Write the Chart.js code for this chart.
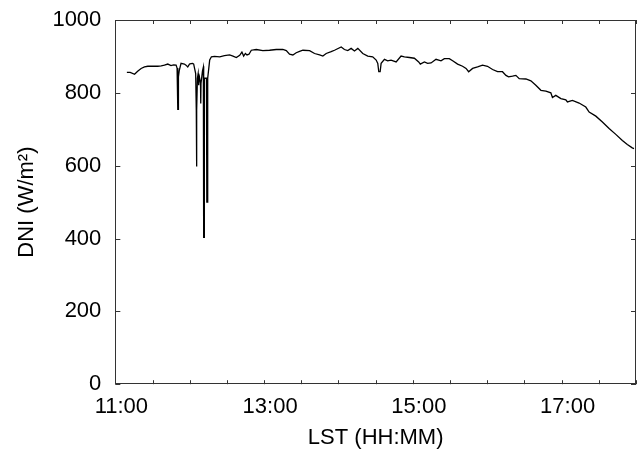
<!DOCTYPE html>
<html>
<head>
<meta charset="utf-8">
<script src="https://cdn.jsdelivr.net/npm/chart.js@4"></script>
<style>
  html, body { margin: 0; padding: 0; background: #fff; }
  #wrap { width: 638px; height: 458px; }
</style>
</head>
<body>
<div id="wrap"><canvas id="dniChart"></canvas></div>
<script>
// time of day in minutes after midnight (LST)
const times = [
  669.3, 672, 675.5, 678, 680.8, 683.5, 686.2, 690, 694.2, 697, 699.6, 702.3, 704.9, 707, 709.0,
  709.8, 710.2, 710.4, 710.5, 710.8, 710.9, 711.6, 713.0, 715.7, 717, 718.4, 719.8, 721, 722.4, 723.2,
  724.0, 724.8, 725.3, 725.4, 725.6, 725.8, 726.2, 726.8, 727.2, 727.3, 727.5, 728.7, 728.9, 729.1,
  730.3, 731.0, 731.2, 731.3, 731.6, 731.8, 732.8, 733.5, 733.7, 733.9, 734.1, 734.3, 734.7, 736.1,
  737.5, 740, 744.2, 748, 752.2, 754.9, 757.6, 760.3, 762.1, 763.5, 764.9, 766.2, 767.8, 769.7,
  773.7, 779.0, 784.4, 789.8, 795.1, 797.9, 800.5, 803.2, 805.9, 808.6, 811.3, 816.7, 820.7, 824.8,
  827.4, 830.1, 834.1, 836.8, 842.2, 844.8, 847.5, 850.2, 852.9, 855.6, 859.6, 863.6, 867.6, 870.4,
  871.7, 872.5, 873.6, 874.4, 877.1, 879.7, 882.4, 886.5, 890.5, 893.2, 897.2, 901.2, 904.7, 906.0,
  909.3, 911.9, 914.7, 918.7, 922.7, 925.4, 929.4, 932.1, 936.1, 940.1, 942.9, 945.0, 948.2, 952.2,
  956.2, 960.2, 964.3, 968.3, 972.3, 975.1, 977.2, 980.4, 983.1, 985.8, 991.2, 995.2, 999.2, 1003.3,
  1007.3, 1011.3, 1012.6, 1015.3, 1019.4, 1023.4, 1024.7, 1028.7, 1034.1, 1039.5, 1042.2, 1047.6,
  1052.9, 1058.3, 1063.7, 1069.0, 1073.0, 1077.0, 1078.4
];
// direct normal irradiance, W/m2
const dni = [
  856, 856, 851, 859, 867, 871, 873, 873, 873, 874, 876, 879, 875, 877, 876,
  868, 853, 844, 755, 755, 844, 862, 881, 879, 876, 871, 879, 880, 881, 879,
  866, 853, 752, 598, 598, 752, 840, 853, 853, 821, 850, 826, 771, 826,
  860, 870, 873, 403, 403, 840, 840, 840, 590, 500, 500, 590, 840, 890,
  899, 900, 899, 902, 904, 901, 897, 903, 912, 901, 908, 904, 906, 917,
  919, 916, 917, 919, 919, 916, 906, 904, 910, 914, 917, 916, 908, 904,
  901, 908, 913, 917, 926, 919, 916, 922, 915, 922, 908, 901, 899, 890,
  881, 858, 858, 881, 892, 888, 890, 885, 901, 899, 897, 895, 885, 879,
  885, 881, 882, 892, 888, 894, 894, 888, 879, 873, 867, 858, 867, 871,
  876, 873, 864, 858, 858, 848, 844, 846, 848, 839, 838, 833, 821, 807,
  805, 800, 787, 793, 784, 781, 775, 779, 772, 761, 747, 736,
  720, 702, 686, 669, 658, 649, 647
];
const xTicks = [660, 780, 900, 1020];
const xMin = 660, xMax = 1080, xMinorStep = 30;
const yTicks = [0, 200, 400, 600, 800, 1000];

const fmtTime = (m) => {
  const h = Math.floor(m / 60), mm = Math.round(m % 60);
  return String(h).padStart(2, '0') + ':' + String(mm).padStart(2, '0');
};

// box round the plot with inward ticks on all four sides
const frameTicks = {
  id: 'frameTicks',
  afterDatasetsDraw(chart) {
    const { ctx, chartArea: a, scales: { x, y } } = chart;
    ctx.save();
    ctx.strokeStyle = '#333';
    ctx.lineWidth = 1;
    ctx.strokeRect(Math.round(a.left) + 0.5, Math.round(a.top) + 0.5,
                   Math.round(a.width) - 1, Math.round(a.height) - 1);
    ctx.beginPath();
    for (let t = xMin; t <= xMax; t += xMinorStep) {
      const px = Math.round(x.getPixelForValue(t)) + 0.5;
      ctx.moveTo(px, a.bottom); ctx.lineTo(px, a.bottom - 4);
      ctx.moveTo(px, a.top); ctx.lineTo(px, a.top + 4);
    }
    yTicks.forEach(v => {
      const py = Math.round(y.getPixelForValue(v)) + 0.5;
      ctx.moveTo(a.left, py); ctx.lineTo(a.left + 5, py);
      ctx.moveTo(a.right, py); ctx.lineTo(a.right - 5, py);
    });
    ctx.stroke();
    ctx.restore();
  }
};

const font = { family: '"Liberation Sans", Arial, sans-serif', size: 22 };

new Chart(document.getElementById('dniChart').getContext('2d'), {
  type: 'line',
  data: {
    datasets: [{
      data: times.map((t, i) => ({ x: t, y: dni[i] })),
      borderColor: '#000',
      borderWidth: 1.3,
      pointRadius: 0,
      tension: 0,
      fill: false
    }]
  },
  options: {
    responsive: true,
    maintainAspectRatio: false,
    animation: false,
    layout: { padding: { left: 4, right: 2, top: 20, bottom: 3 } },
    plugins: { legend: { display: false }, tooltip: { enabled: false } },
    scales: {
      x: {
        type: 'linear',
        min: xMin,
        max: xMax,
        afterBuildTicks: (scale) => { scale.ticks = xTicks.map(v => ({ value: v })); },
        grid: { display: false, drawTicks: false },
        border: { display: false },
        ticks: { color: '#000', font: font, padding: 10, labelOffset: 6, maxRotation: 0, callback: (v) => fmtTime(v) },
        title: { display: true, text: 'LST (HH:MM)', color: '#000', font: font, padding: { top: -6, bottom: 4 } }
      },
      y: {
        min: 0,
        max: 1000,
        afterBuildTicks: (scale) => { scale.ticks = yTicks.map(v => ({ value: v })); },
        afterFit: (scale) => { scale.paddingTop = 0; scale.paddingBottom = 0; },
        grid: { display: false, drawTicks: false },
        border: { display: false },
        ticks: { color: '#000', font: font, padding: 14, callback: (v) => String(v) },
        title: { display: true, text: 'DNI (W/m²)', color: '#000', font: font, padding: { top: 10, bottom: -2 } }
      }
    }
  },
  plugins: [frameTicks]
});
</script>
</body>
</html>
